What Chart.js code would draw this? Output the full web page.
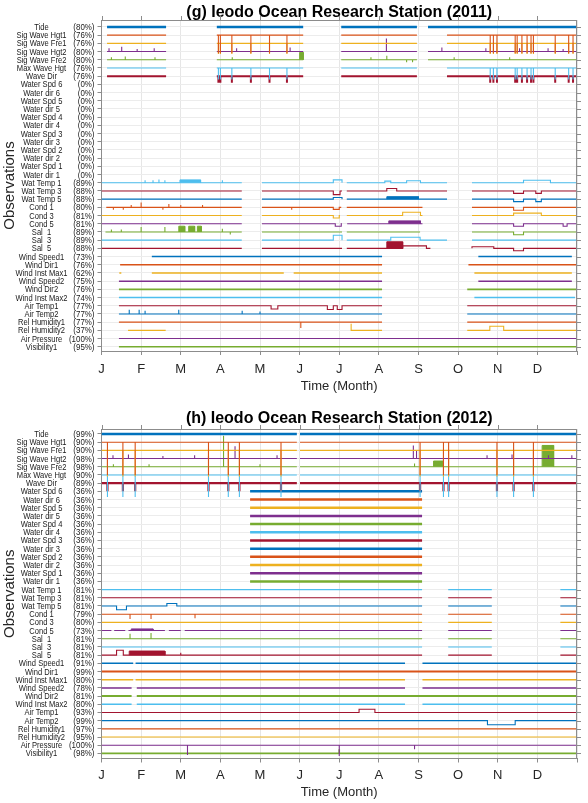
<!DOCTYPE html>
<html lang="en">
<head>
<meta charset="UTF-8">
<title>Ieodo Ocean Research Station</title>
<script src="https://cdn.jsdelivr.net/npm/chart.js"></script>
<style>
  body { margin: 0; background: #fff; }
  canvas { position: absolute; left: 0; }
  #chart2011 { top: 0; }
  #chart2012 { top: 400px; }
</style>
</head>
<body>
<canvas id="chart2011" width="588" height="400"></canvas>
<canvas id="chart2012" width="588" height="403"></canvas>
<script>
// ---- data (x in months after 1 Jan, rows counted from the top) ----
const months = ['J', 'F', 'M', 'A', 'M', 'J', 'J', 'A', 'S', 'O', 'N', 'D'];
const rowNames = ['Tide', 'Sig Wave Hgt1', 'Sig Wave Fre1', 'Sig Wave Hgt2', 'Sig Wave Fre2', 'Max Wave Hgt', 'Wave Dir',
    'Water Spd 6', 'Water dir 6', 'Water Spd 5', 'Water dir 5', 'Water Spd 4', 'Water dir 4', 'Water Spd 3', 'Water dir 3',
    'Water Spd 2', 'Water dir 2', 'Water Spd 1', 'Water dir 1', 'Wat Temp 1', 'Wat Temp 3', 'Wat Temp 5', 'Cond 1', 'Cond 3',
    'Cond 5', 'Sal  1', 'Sal  3', 'Sal  5', 'Wind Speed1', 'Wind Dir1', 'Wind Inst Max1', 'Wind Speed2', 'Wind Dir2',
    'Wind Inst Max2', 'Air Temp1', 'Air Temp2', 'Rel Humidity1', 'Rel Humidity2', 'Air Pressure', 'Visibility1'];

const pct2011 = [80, 76, 76, 80, 80, 76, 76, 0, 0, 0, 0, 0, 0, 0, 0, 0, 0, 0, 0,
    89, 88, 88, 80, 81, 81, 89, 89, 88, 73, 76, 62, 75, 76, 74, 77, 77, 77, 37, 100, 95];
const pct2012 = [99, 90, 90, 98, 98, 90, 89, 36, 36, 36, 36, 36, 36, 36, 36, 36, 36, 36, 36,
    81, 81, 81, 79, 80, 73, 81, 81, 81, 91, 99, 80, 78, 81, 80, 93, 99, 97, 95, 100, 98];

// stretches with data, one list per row
const spans2011 = [
    [[0.14, 1.63], [2.91, 5.09], [6.05, 7.96], [8.24, 12]],
    [[0.14, 1.63], [2.91, 5.09], [6.05, 7.96], [8.72, 12]],
    [[0.14, 1.63], [2.91, 5.09], [6.05, 7.96], [8.72, 12]],
    [[0.14, 1.63], [2.91, 5.09], [6.05, 7.96], [8.24, 12]],
    [[0.14, 1.63], [2.91, 5.09], [6.05, 7.96], [8.24, 12]],
    [[0.14, 1.63], [2.91, 5.09], [6.05, 7.96], [8.72, 12]],
    [[0.14, 1.63], [2.91, 5.09], [6.05, 7.96], [8.72, 12]],
    [], [], [], [], [], [], [], [], [], [], [], [],
    [[0, 3.54], [4.05, 6.07], [6.19, 8.72], [9.35, 12]],
    [[0, 3.54], [4.05, 6.07], [6.19, 8.72], [9.35, 12]],
    [[0, 3.54], [4.05, 6.07], [6.19, 8.72], [9.35, 12]],
    [[0.12, 3.54], [4.05, 6.05], [6.19, 8.1], [9.35, 12]],
    [[0, 3.54], [4.05, 6.02], [6.19, 8.1], [9.35, 12]],
    [[0, 3.54], [4.05, 6.07], [6.2, 8.1], [9.35, 12]],
    [[0.1, 3.54], [4.05, 6.07], [6.19, 8.04], [9.35, 12]],
    [[0, 3.54], [4.05, 6.07], [6.19, 8.72], [9.35, 12]],
    [[0, 3.54], [4.05, 6.07], [6.19, 8.3], [9.35, 12]],
    [[1.27, 7.08], [9.51, 11.87]],
    [[0.47, 7.08], [9.26, 12]],
    [[0.45, 0.5], [1.27, 4.6], [4.85, 7.08], [9.41, 11.87]],
    [[0.44, 7.08], [9.51, 11.87]],
    [[0.44, 7.08], [9.23, 12]],
    [[0.44, 7.08], [9.41, 11.95]],
    [[0.44, 7.08], [9.23, 12]],
    [[0.44, 7.08], [9.23, 12]],
    [[0.44, 7.08], [9.23, 12]],
    [[0.67, 1.62], [6.3, 7.08], [9.23, 12]],
    [[0.44, 12]],
    [[0.44, 12]]
];

const spans2012 = [
    [[0, 4.93], [5.01, 12]],
    [[0, 4.93], [5.01, 12]],
    [[0, 4.93], [5.01, 12]],
    [[0, 4.93], [5.01, 12]],
    [[0, 4.93], [5.01, 12]],
    [[0, 4.93], [5.01, 12]],
    [[0, 4.93], [5.01, 12]],
    [[3.75, 8.09]], [[3.75, 8.09]], [[3.75, 8.09]], [[3.75, 8.09]], [[3.75, 8.09]], [[3.75, 8.09]],
    [[3.75, 8.09]], [[3.75, 8.09]], [[3.75, 8.09]], [[3.75, 8.09]], [[3.75, 8.09]], [[3.75, 8.09]],
    [[0, 8.09], [8.75, 9.85], [11.58, 12]],
    [[0, 8.09], [8.75, 9.85], [11.58, 12]],
    [[0, 8.09], [8.75, 9.85], [11.58, 12]],
    [[0, 8.09], [8.75, 9.85], [11.58, 12]],
    [[0, 8.09], [8.75, 9.85], [11.58, 12]],
    [[0, 0.25], [0.32, 0.6], [0.68, 1.6], [1.7, 2.0], [2.1, 8.09], [8.75, 9.85], [11.58, 12]],
    [[0, 8.09], [8.75, 9.85], [11.58, 12]],
    [[0, 8.09], [8.75, 9.85], [11.58, 12]],
    [[0, 8.09], [8.75, 9.85], [11.58, 12]],
    [[0, 0.8], [0.86, 7.66], [8.1, 12]],
    [[0, 12]],
    [[0, 0.8], [0.86, 7.66], [8.1, 12]],
    [[0, 0.76], [0.89, 7.66], [8.1, 12]],
    [[0, 0.76], [0.89, 12]],
    [[0, 0.76], [0.89, 7.66], [8.1, 12]],
    [[0, 12]],
    [[0, 12]],
    [[0, 12]],
    [[0, 12]],
    [[0, 12]],
    [[0, 12]]
];

// short drops shared by the wave rows, and how far each row drops (rows)
const waveDrops2011 = [2.95, 3.0, 3.29, 3.77, 4.24, 4.68, 9.81, 9.89, 9.98, 10.44, 10.49, 10.61, 10.74, 10.84, 10.9, 11.45, 11.79, 11.9];
const dropDepth2011 = {1: 2.2, 2: 1.3, 5: 1.4, 6: 0.8};
const waveDrops2012 = [0.15, 0.54, 0.85, 2.7, 3.2, 3.48, 4.53, 8.04, 8.63, 8.76, 9.98, 10.4, 10.9];
const dropDepth2012 = {1: 4.0, 2: 3.2, 5: 2.7, 6: 1.0};

// single spikes: [row index, month, offset in rows (+ down, - up)]
const spikes2011 = [
    [3, 0.19, -0.4], [3, 0.51, -0.6], [3, 0.9, -0.3], [3, 1.33, -0.4], [3, 3.41, -0.4], [3, 4.76, -0.5], [3, 7.19, -1.6],
    [3, 8.59, -0.5], [3, 9.7, -0.4], [3, 10.55, -0.4], [3, 11.27, -0.4], [3, 11.65, -0.3],
    [4, 0.25, -0.3], [4, 0.6, -0.4], [4, 1.35, -0.3], [4, 3.3, -0.3], [4, 6.8, -0.3], [4, 7.2, -0.5], [4, 7.7, 0.3],
    [4, 7.85, 0.3], [4, 8.9, -0.3], [4, 10.3, -0.3],
    [19, 1.1, -0.3], [19, 1.3, -0.3], [19, 1.45, -0.4], [19, 1.6, -0.3], [19, 3.05, -0.3],
    [22, 0.3, 0.3], [22, 0.55, 0.3], [22, 0.75, -0.3], [22, 1.0, -0.6], [22, 1.55, 0.3], [22, 1.7, -0.4], [22, 2.0, -0.3],
    [22, 2.55, -0.3], [22, 4.8, 0.3],
    [25, 0.25, -0.3], [25, 0.5, -0.3], [25, 1.0, -0.6], [25, 1.6, -0.6], [25, 3.05, -0.4], [25, 3.25, 0.3],
    [35, 0.7, -0.5], [35, 0.95, -0.5], [35, 1.1, -0.4], [35, 1.95, -0.5], [35, 3.55, -0.4], [35, 4.0, -0.3],
    [36, 5.03, 0.7], [37, 6.3, -0.8]
];
const spikes2012 = [
    [3, 0.29, -0.4], [3, 0.68, -0.5], [3, 1.55, -0.3], [3, 2.35, -0.4], [3, 2.7, -0.3], [3, 3.37, -1.5], [3, 4.43, -0.4],
    [3, 7.87, -1.6], [3, 7.95, -1.0], [3, 9.73, -0.4], [3, 10.36, -0.5], [3, 11.28, -0.4], [3, 11.87, -0.4],
    [4, 0.3, -0.3], [4, 1.2, -0.3], [4, 3.08, -3.8], [4, 4.0, -0.3], [4, 7.9, -0.4],
    [22, 0.72, 0.6], [22, 1.25, 0.6], [22, 2.36, 0.5],
    [25, 0.72, -0.6], [25, 1.25, -0.7],
    [27, 2.0, -0.3],
    [38, 2.17, 1.2], [38, 6.0, 1.3], [38, 7.9, 0.5],
    [39, 6.0, -0.5]
];

// level shifts: [row index, from, to, offset in rows]
const shifts2011 = [
    [19, 5.85, 6.07, -0.35], [19, 7.15, 7.3, -0.2], [19, 7.7, 8.05, -0.25], [19, 10.65, 11.33, -0.3],
    [20, 5.85, 6.02, 0.45], [20, 7.2, 7.45, -0.3], [20, 10.4, 10.65, 0.3], [20, 10.96, 11.1, 0.3],
    [21, 5.85, 6.07, -0.2], [21, 10.4, 10.65, 0.3], [21, 10.96, 11.1, 0.3],
    [22, 5.85, 6.0, 0.25], [22, 10.4, 10.65, 0.35],
    [23, 5.85, 6.0, 0.3], [23, 7.6, 8.05, -0.4], [23, 10.4, 11.1, -0.3],
    [24, 5.9, 6.05, 0.3], [24, 10.4, 10.65, 0.3], [24, 11.65, 11.75, 0.3],
    [25, 10.4, 10.65, 0.35],
    [26, 5.85, 6.07, -0.6], [26, 7.3, 8.04, -0.35],
    [27, 7.6, 8.2, -0.3], [27, 9.35, 9.9, -0.2], [27, 10.4, 10.65, 0.3],
    [34, 4.28, 4.45, 0.4], [34, 5.7, 5.85, 0.45], [34, 5.95, 6.07, 0.45],
    [37, 9.8, 10.15, -0.5]
];
const shifts2012 = [
    [21, 0.38, 0.63, 0.45], [21, 1.65, 1.9, -0.3],
    [27, 0.38, 0.55, -0.6],
    [34, 6.5, 6.9, -0.4],
    [35, 9.74, 10.44, 0.5]
];

// filled blocks: [row index, from, to, height in rows]
const blocks2011 = [
    [4, 5.0, 5.09, -0.9], [19, 1.98, 2.5, -0.35], [21, 7.2, 8.0, -0.3],
    [24, 7.25, 8.05, -0.35], [25, 1.95, 2.1, -0.7], [25, 2.2, 2.35, -0.7], [25, 2.42, 2.52, -0.7],
    [27, 7.2, 7.6, -0.8]
];
const blocks2012 = [
    [4, 8.38, 8.63, -0.7], [4, 11.12, 11.41, -2.6], [24, 0.75, 1.3, -0.2], [27, 0.7, 1.6, -0.5]
];

// rows that read as a thick, noisy band
const thick2011 = {0: 2.6, 6: 2, 28: 1.4, 29: 1.6, 30: 1.4, 31: 1.5, 32: 1.6, 33: 1.4, 39: 1.5};
const thick2012 = {0: 2.6, 6: 2.2, 7: 2.5, 8: 2.5, 9: 2.5, 10: 2.5, 11: 2.5, 12: 2.5, 13: 2.5, 14: 2.5, 15: 2.5,
    16: 2.5, 17: 2.5, 18: 2.5, 28: 1.5, 29: 2, 30: 1.4, 31: 1.5, 32: 2, 33: 1.5, 39: 1.6};

const palette = ['#0072BD', '#D95319', '#EDB120', '#7E2F8E', '#77AC30', '#4DBEEE', '#A2142F'];
const FONT = '"Liberation Sans", Arial, Helvetica, sans-serif';
Chart.defaults.font.family = FONT;

function rowPoints(row, spans, spikes, shifts, drops, depth) {
    const base = row + 1;
    const events = [];
    spikes.filter(s => s[0] === row).forEach(s => events.push([s[1], s[1], s[2]]));
    shifts.filter(s => s[0] === row).forEach(s => events.push([s[1], s[2], s[3]]));
    if (depth[row]) drops.forEach(m => events.push([m, m, depth[row]]));
    events.sort((a, b) => a[0] - b[0]);
    const pts = [];
    spans[row].forEach(([a, b]) => {
        pts.push({x: a, y: base});
        events.filter(e => e[0] >= a && e[1] <= b).forEach(e => {
            pts.push({x: e[0], y: base}, {x: e[0], y: base + e[2]}, {x: e[1], y: base + e[2]}, {x: e[1], y: base});
        });
        pts.push({x: b, y: base});
        pts.push({x: b, y: null});
    });
    return pts;
}

function buildDatasets(spans, spikes, shifts, blocks, drops, depth, thick) {
    const sets = [];
    rowNames.forEach((_, row) => {
        sets.push({
            data: rowPoints(row, spans, spikes, shifts, drops, depth),
            borderColor: palette[row % 7],
            borderWidth: thick[row] || 1.1,
            pointRadius: 0,
            tension: 0,
            fill: false
        });
    });
    blocks.forEach(([row, a, b, h]) => {
        const base = row + 1;
        sets.push({
            data: [{x: a, y: base}, {x: a, y: base + h}, {x: b, y: base + h}, {x: b, y: base}],
            borderColor: palette[row % 7],
            backgroundColor: palette[row % 7],
            borderWidth: 1,
            pointRadius: 0,
            fill: {value: base}
        });
    });
    return sets;
}

// row names, percentages, title and the box around the axes
const framePlugin = {
    id: 'frame',
    afterDraw(chart, args, opts) {
        const {ctx, chartArea: area, scales} = chart;
        ctx.save();
        ctx.fillStyle = '#000';
        ctx.font = 'bold 16px ' + FONT;
        ctx.textAlign = 'center';
        ctx.textBaseline = 'middle';
        ctx.fillText(opts.title, (area.left + area.right) / 2, opts.titleY);

        ctx.strokeStyle = '#8c8c8c';
        ctx.lineWidth = 1;
        ctx.beginPath();
        ctx.moveTo(area.left, Math.round(area.top) + 0.5);
        ctx.lineTo(area.right, Math.round(area.top) + 0.5);
        ctx.moveTo(Math.round(area.right) - 0.5, area.top);
        ctx.lineTo(Math.round(area.right) - 0.5, area.bottom);
        rowNames.forEach((_, i) => {
            const py = Math.round(scales.y.getPixelForValue(i + 1)) + 0.5;
            ctx.moveTo(area.right, py);
            ctx.lineTo(area.right + 4, py);
        });
        months.forEach((_, i) => {
            const px = Math.round(scales.x.getPixelForValue(i)) + 0.5;
            ctx.moveTo(px, area.top);
            ctx.lineTo(px, area.top - 4);
        });
        ctx.stroke();

        ctx.fillStyle = '#1a1a1a';
        ctx.font = '9px ' + FONT;
        rowNames.forEach((name, i) => {
            const py = scales.y.getPixelForValue(i + 1) + 0.5;
            ctx.save();
            ctx.translate(41.5, py);
            ctx.scale(0.84, 1);
            ctx.textAlign = 'center';
            ctx.fillText(name, 0, 0);
            ctx.restore();
            ctx.save();
            ctx.translate(94.5, py);
            ctx.scale(0.88, 1);
            ctx.textAlign = 'right';
            ctx.fillText('(' + opts.pct[i] + '%)', 0, 0);
            ctx.restore();
        });
        ctx.restore();
    }
};

function makeChart(id, cfg) {
    return new Chart(document.getElementById(id), {
        type: 'line',
        data: {datasets: buildDatasets(cfg.spans, cfg.spikes, cfg.shifts, cfg.blocks, cfg.drops, cfg.depth, cfg.thick)},
        options: {
            responsive: false,
            animation: false,
            layout: {padding: {left: 0, right: 11, top: cfg.top, bottom: 0}},
            plugins: {
                legend: {display: false},
                tooltip: {enabled: false},
                frame: {title: cfg.title, titleY: cfg.titleY, pct: cfg.pct}
            },
            scales: {
                x: {
                    type: 'linear', min: 0, max: 12,
                    afterBuildTicks: s => { s.ticks = months.map((_, i) => ({value: i})).concat([{value: 12}]); },
                    afterFit: s => { s.height = cfg.xHeight; },
                    ticks: {
                        callback: v => months[v] || '',
                        font: {size: 13}, color: '#262626', padding: cfg.tickPad,
                        maxRotation: 0, autoSkip: false
                    },
                    grid: {color: '#e6e6e6', tickColor: '#8c8c8c', tickLength: 4},
                    border: {color: '#8c8c8c'},
                    title: {display: true, text: 'Time (Month)', font: {size: 13}, color: '#262626',
                        padding: {top: 0, bottom: cfg.titlePad}}
                },
                y: {
                    type: 'linear', min: cfg.yMin, max: cfg.yMax, reverse: true,
                    afterBuildTicks: s => { s.ticks = rowNames.map((_, i) => ({value: i + 1})); },
                    afterFit: s => { s.width = 101.5; },
                    ticks: {display: false},
                    grid: {color: '#ececec', tickColor: '#8c8c8c', tickLength: 4},
                    border: {color: '#8c8c8c'},
                    title: {display: true, text: 'Observations', font: {size: 15}, color: '#262626',
                        padding: {top: 1, bottom: 0}}
                }
            }
        },
        plugins: [framePlugin]
    });
}

makeChart('chart2011', {
    title: '(g) Ieodo Ocean Research Station (2011)', titleY: 13, pct: pct2011,
    spans: spans2011, spikes: spikes2011, shifts: shifts2011, blocks: blocks2011,
    drops: waveDrops2011, depth: dropDepth2011, thick: thick2011,
    top: 20, xHeight: 49, tickPad: 6.5, titlePad: 6.2, yMin: 0.15, yMax: 40.52
});
makeChart('chart2012', {
    title: '(h) Ieodo Ocean Research Station (2012)', titleY: 19, pct: pct2012,
    spans: spans2012, spikes: spikes2012, shifts: shifts2012, blocks: blocks2012,
    drops: waveDrops2012, depth: dropDepth2012, thick: thick2012,
    top: 29, xHeight: 44.5, tickPad: 4.7, titlePad: 2.9, yMin: 0.39, yMax: 40.62
});
</script>
</body>
</html>
